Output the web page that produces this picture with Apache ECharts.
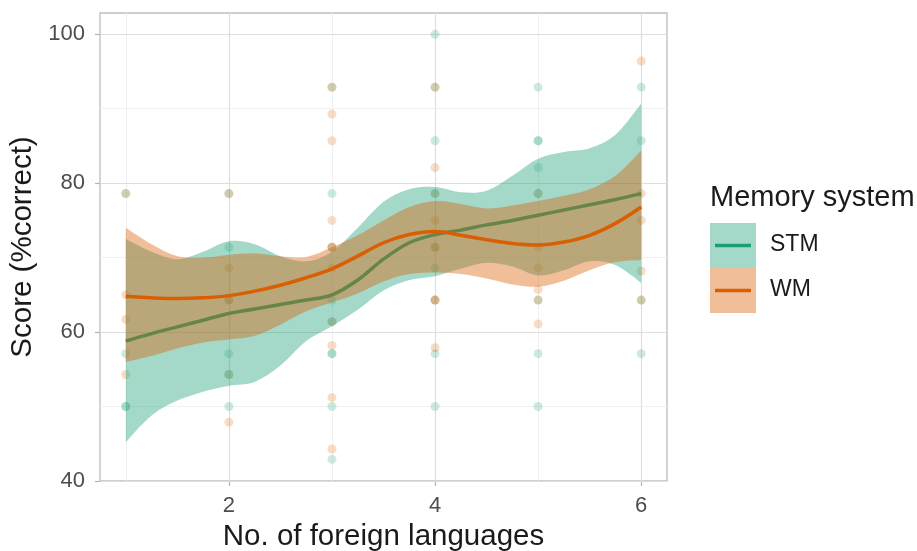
<!DOCTYPE html>
<html>
<head>
<meta charset="utf-8">
<script src="https://cdn.jsdelivr.net/npm/echarts@6/dist/echarts.min.js"></script>
<style>html,body{margin:0;padding:0;background:#fff}#c{width:917px;height:551px}</style>
</head>
<body>
<div id="c"></div>
<script>
// ---- data ----
const xTicks = [2, 4, 6];
const xMinor = [1, 3, 5];
const yTicks = [40, 60, 80, 100];
const yMinor = [50, 70, 90];

const stmPoints = [
  [1,78.6],[1,57.1],[1,50.0],[1,50.0],
  [2,78.6],[2,71.4],[2,64.3],[2,57.1],[2,54.3],[2,50.0],
  [3,92.9],[3,78.6],[3,71.4],[3,64.3],[3,61.4],[3,57.1],[3,57.1],[3,50.0],[3,42.9],
  [4,100],[4,92.9],[4,85.7],[4,78.6],[4,71.4],[4,68.6],[4,64.3],[4,57.1],[4,50.0],
  [5,92.9],[5,85.7],[5,85.7],[5,82.1],[5,78.6],[5,64.3],[5,57.1],[5,50.0],
  [6,92.9],[6,85.7],[6,64.3],[6,57.1]
];
const wmPoints = [
  [1,78.6],[1,65.0],[1,61.7],[1,54.3],
  [2,78.6],[2,68.6],[2,64.3],[2,54.3],[2,47.9],
  [3,92.9],[3,89.3],[3,85.7],[3,75.0],[3,71.4],[3,71.4],[3,68.6],[3,61.4],[3,58.2],[3,51.2],[3,44.3],
  [4,92.9],[4,82.1],[4,78.6],[4,75.0],[4,71.4],[4,64.3],[4,64.3],[4,57.9],
  [5,78.6],[5,71.4],[5,68.6],[5,65.7],[5,64.3],[5,61.1],
  [6,96.4],[6,78.6],[6,75.0],[6,68.2],[6,64.3]
];

const fitX  = [1,1.25,1.5,1.75,2,2.25,2.5,2.75,3,3.25,3.5,3.75,4,4.25,4.5,4.75,5,5.25,5.5,5.75,6];
const stmFit = [58.8,59.8,60.7,61.6,62.5,63.1,63.7,64.3,65.0,67.0,69.8,72.0,73.1,73.7,74.4,75.0,75.7,76.4,77.1,77.8,78.6];
const stmHi  = [72.5,70.8,69.8,70.8,72.2,71.8,70.2,69.5,70.8,74.0,77.5,79.2,79.5,78.8,79.0,81.0,83.3,84.2,84.7,86.5,90.7];
const stmLo  = [45.2,48.8,50.8,52.0,52.8,53.3,55.5,58.8,60.8,63.0,65.6,67.0,67.5,68.5,69.3,68.8,67.6,68.3,69.5,69.0,66.6];
const wmFit  = [64.8,64.6,64.5,64.6,64.9,65.5,66.3,67.3,68.5,70.2,72.0,73.1,73.5,73.0,72.4,71.9,71.7,72.1,73.0,74.6,76.8];
const wmHi   = [74.0,71.8,70.2,70.0,70.4,70.6,70.2,70.1,71.4,73.0,75.0,76.8,77.6,77.2,76.6,77.0,77.6,78.3,79.2,81.0,84.4];
const wmLo   = [56.0,56.8,57.8,58.6,59.0,59.5,61.0,62.8,64.0,65.2,66.8,67.8,68.0,67.8,67.2,66.4,66.1,66.9,68.3,69.4,69.7];

// ---- build ----
const GREEN = '#1B9E77', ORANGE = '#D95F02';
const FONT = 'Liberation Sans, Arial, sans-serif';
const pairs = (xs, ys) => xs.map((x, i) => [x, ys[i]]);

const gridLines = [];
xTicks.forEach(v => gridLines.push({xAxis: v, lineStyle: {color: '#DEDEDE', width: 1.2, type: 'solid'}}));
xMinor.forEach(v => gridLines.push({xAxis: v, lineStyle: {color: '#EEEEEE', width: 0.9, type: 'solid'}}));
yTicks.forEach(v => gridLines.push({yAxis: v, lineStyle: {color: '#DEDEDE', width: 1.2, type: 'solid'}}));
yMinor.forEach(v => gridLines.push({yAxis: v, lineStyle: {color: '#EEEEEE', width: 0.9, type: 'solid'}}));

// Catmull-Rom path through pixel points (pts already from api.coord)
function crPath(pts, start) {
  let d = (start ? 'M' : 'L') + pts[0][0] + ' ' + pts[0][1];
  for (let i = 0; i < pts.length - 1; i++) {
    const p0 = pts[Math.max(i - 1, 0)], p1 = pts[i], p2 = pts[i + 1], p3 = pts[Math.min(i + 2, pts.length - 1)];
    const c1x = p1[0] + (p2[0] - p0[0]) / 6, c1y = p1[1] + (p2[1] - p0[1]) / 6;
    const c2x = p2[0] - (p3[0] - p1[0]) / 6, c2y = p2[1] - (p3[1] - p1[1]) / 6;
    d += ' C' + c1x + ' ' + c1y + ' ' + c2x + ' ' + c2y + ' ' + p2[0] + ' ' + p2[1];
  }
  return d;
}
const band = (name, hi, lo, fill, z) => ({
  type: 'custom', name, silent: true, z,
  data: fitX.map((x, i) => [x, lo[i], hi[i]]),
  encode: {x: 0, y: [1, 2]},
  renderItem: (params, api) => {
    if (params.dataIndex !== 0) return null;
    const up = fitX.map((x, i) => api.coord([x, hi[i]]));
    const dn = fitX.map((x, i) => api.coord([x, lo[i]])).reverse();
    const d = crPath(up, true) + ' ' + crPath(dn, false) + ' Z';
    return {type: 'path', shape: {pathData: d}, style: {fill, stroke: null}};
  }
});
const fitLine = (name, ys, color, z) => ({
  type: 'line', name, data: pairs(fitX, ys), smooth: 0.35, symbol: 'none',
  lineStyle: {color, width: 3.5}, silent: true, z
});

const chart = echarts.init(document.getElementById('c'), null, {renderer: 'canvas'});
chart.setOption({
  animation: false,
  grid: {left: 100, top: 13, right: 250, bottom: 70, outerBoundsMode: 'none', containLabel: false,
         show: true, borderColor: '#BEBEBE', borderWidth: 1.3, backgroundColor: 'transparent'},
  xAxis: {
    type: 'value', min: 0.75, max: 6.25,
    name: 'No. of foreign languages', nameLocation: 'middle', nameGap: 41,
    nameTextStyle: {fontSize: 29.5, color: '#1A1A1A', fontFamily: FONT},
    axisLine: {show: false},
    axisTick: {show: true, customValues: xTicks, length: 5, lineStyle: {color: '#B3B3B3', width: 1.2}},
    axisLabel: {customValues: xTicks, fontSize: 22, color: '#4D4D4D', fontFamily: FONT, margin: 14},
    splitLine: {show: false}
  },
  yAxis: {
    type: 'value', min: 40, max: 102.86,
    name: 'Score (%correct)', nameLocation: 'middle', nameGap: 61,
    nameTextStyle: {fontSize: 29.5, color: '#1A1A1A', fontFamily: FONT},
    axisLine: {show: false},
    axisTick: {show: true, customValues: yTicks, length: 5, lineStyle: {color: '#B3B3B3', width: 1.2}},
    axisLabel: {customValues: yTicks, fontSize: 22, color: '#4D4D4D', fontFamily: FONT, margin: 15},
    splitLine: {show: false}
  },
  series: [
    {type: 'line', name: 'grid', data: [], z: 1, silent: true,
     markLine: {silent: true, z: 1, symbol: 'none', label: {show: false}, animation: false, data: gridLines}},
    {type: 'scatter', name: 'STM pts', data: stmPoints, symbolSize: 9, itemStyle: {color: GREEN, opacity: 0.22}, z: 2, silent: true},
    {type: 'scatter', name: 'WM pts', data: wmPoints, symbolSize: 9, itemStyle: {color: ORANGE, opacity: 0.22}, z: 2, silent: true},
    band('stmBand', stmHi, stmLo, 'rgba(27,158,119,0.4)', 3),
    fitLine('STM', stmFit, GREEN, 4),
    band('wmBand', wmHi, wmLo, 'rgba(217,95,2,0.4)', 5),
    fitLine('WM', wmFit, ORANGE, 6)
  ],
  graphic: [
    {type: 'text', left: 710, top: 183, style: {text: 'Memory system', fontSize: 29, fill: '#1A1A1A', fontFamily: FONT}},
    {type: 'rect', shape: {x: 710, y: 223, width: 46, height: 45}, style: {fill: 'rgba(27,158,119,0.4)'}},
    {type: 'line', shape: {x1: 715, y1: 245.5, x2: 751, y2: 245.5}, style: {stroke: GREEN, lineWidth: 3.5}},
    {type: 'rect', shape: {x: 710, y: 268, width: 46, height: 45}, style: {fill: 'rgba(217,95,2,0.4)'}},
    {type: 'line', shape: {x1: 715, y1: 290.5, x2: 751, y2: 290.5}, style: {stroke: ORANGE, lineWidth: 3.5}},
    {type: 'text', left: 770, top: 233, style: {text: 'STM', fontSize: 23, fill: '#1A1A1A', fontFamily: FONT}},
    {type: 'text', left: 770, top: 278, style: {text: 'WM', fontSize: 23, fill: '#1A1A1A', fontFamily: FONT}}
  ]
});
</script>
</body>
</html>
